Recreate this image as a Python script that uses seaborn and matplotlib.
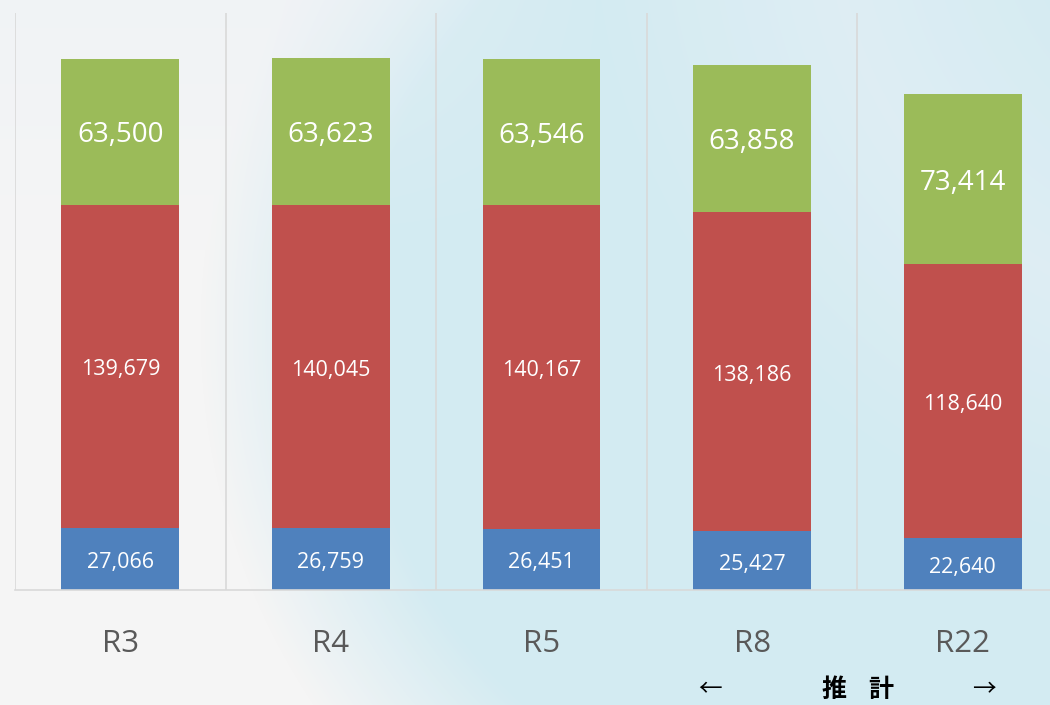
import numpy as np
import pandas as pd
import seaborn as sns
import matplotlib.pyplot as plt
from matplotlib.colors import to_rgb

# data
categories = ["R3", "R4", "R5", "R8", "R22"]
young = [27066, 26759, 26451, 25427, 22640]
working = [139679, 140045, 140167, 138186, 118640]
elderly = [63500, 63623, 63546, 63858, 73414]

c_blue = "#4f81bd"
c_red = "#c0504d"
c_green = "#9bbb59"

sns.set_theme(style="white")
plt.rcParams['font.family'] = ['Open Sans', 'Noto Sans CJK JP', 'DejaVu Sans']

fig = plt.figure(figsize=(10.5, 7.05), dpi=100)

# soft background: grey with a pale blue disc on the right
bg = fig.add_axes([0, 0, 1, 1])
bg.set_axis_off()
H, W = 705, 1050
yy, xx = np.mgrid[0:H, 0:W]
d = np.sqrt((xx - 820) ** 2 + ((yy - 330) / 1.05) ** 2)
t = np.clip((620 - d) / 160, 0, 1)
grey = np.array(to_rgb("#f5f5f5"))
blue = np.array(to_rgb("#d3ebf2"))
img = grey[None, None, :] * (1 - t[..., None]) + blue[None, None, :] * t[..., None]
# lighter sweep toward the upper left of the disc and upper right corner
light = np.clip(1 - np.abs(np.sqrt((xx - 1250) ** 2 + (yy + 100) ** 2) - 420) / 260, 0, 1) * 0.45
top = np.clip((250 - yy) / 250, 0, 1) * np.clip((620 - xx) / 300, 0, 1) * 0.5
light = np.maximum(light, top)
img = img * (1 - light[..., None]) + np.array(to_rgb("#ecf1f6"))[None, None, :] * light[..., None]
bg.imshow(img, aspect="auto", extent=[0, 1, 0, 1], origin="upper")

ax = fig.add_axes([15 / 1050, 1 - 590 / 705, 1053 / 1050, 577 / 705])
ax.patch.set_alpha(0)

df = pd.DataFrame({"cat": categories, "young": young, "working": working, "elderly": elderly})
bottom2 = np.array(young)
bottom3 = bottom2 + np.array(working)

bar_kw = dict(width=0.56, saturation=1, linewidth=0, edgecolor="none", ax=ax)
sns.barplot(data=df, x="cat", y="young", color=c_blue, **bar_kw)
sns.barplot(data=df, x="cat", y="working", color=c_red, bottom=bottom2, **bar_kw)
sns.barplot(data=df, x="cat", y="elderly", color=c_green, bottom=bottom3, **bar_kw)

sizes = [15.5, 15.5, 20]
for cont, fs in zip(ax.containers, sizes):
    labs = ax.bar_label(cont, labels=[f"{v:,.0f}" for v in cont.datavalues], label_type="center",
                        color="white", fontsize=fs)
    for lab in labs:
        lab.xyann = (0, -2.5)  # Open Sans sits a bit high when centred

ax.set_ylim(0, 250000)
ax.set_xlim(-0.5, 4.5)
ax.set_xlabel("")
ax.set_ylabel("")
ax.set_yticks([])
for x in np.arange(-0.5, 5, 1):
    ax.axvline(x, color="#d9d9d9", lw=1.2, zorder=0)
for s in ["top", "right", "left"]:
    ax.spines[s].set_visible(False)
ax.spines["bottom"].set_color("#d9d9d9")
ax.spines["bottom"].set_linewidth(1.2)
ax.tick_params(axis="x", length=0, pad=28, labelsize=22.5, labelcolor="#595959")

yb = 1 - 690 / 705
fig.text(710 / 1050, yb, "←", fontsize=17, color="black", ha="center", va="center")
fig.text(834 / 1050, yb, "推", fontsize=18, color="black", ha="center", va="center",
         family=['Noto Sans CJK JP', 'DejaVu Sans'], fontweight="bold")
fig.text(881 / 1050, yb, "計", fontsize=18, color="black", ha="center", va="center",
         family=['Noto Sans CJK JP', 'DejaVu Sans'], fontweight="bold")
fig.text(984 / 1050, yb, "→", fontsize=17, color="black", ha="center", va="center")

fig.savefig("out.png", dpi=100)
